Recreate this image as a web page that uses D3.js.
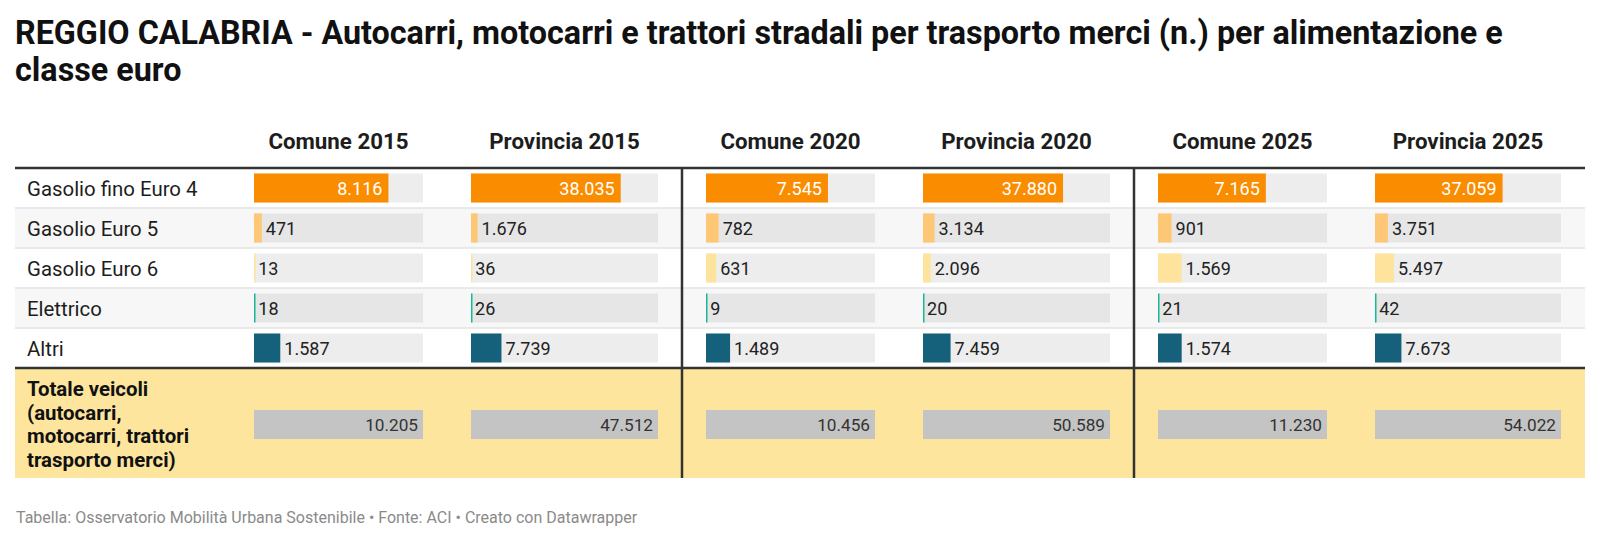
<!DOCTYPE html>
<html>
<head>
<meta charset="utf-8">
<script src="https://cdn.jsdelivr.net/npm/d3@7"></script>
<style>
  body { margin: 0; background: #fff; }
  svg { display: block; font-family: Roboto, sans-serif; }
</style>
</head>
<body>
<svg id="chart"></svg>
<script>
const titleLines = [
  "REGGIO CALABRIA - Autocarri, motocarri e trattori stradali per trasporto merci (n.) per alimentazione e",
  "classe euro"
];
const footerText = "Tabella: Osservatorio Mobilità Urbana Sostenibile • Fonte: ACI • Creato con Datawrapper";

const categories = ["Gasolio fino Euro 4", "Gasolio Euro 5", "Gasolio Euro 6", "Elettrico", "Altri"];
const categoryColors = ["#fa8c00", "#fec776", "#fee39c", "#19b796", "#15607a"];
const columns = ["Comune 2015", "Provincia 2015", "Comune 2020", "Provincia 2020", "Comune 2025", "Provincia 2025"];

const comune2015 = [8116, 471, 13, 18, 1587];
const provincia2015 = [38035, 1676, 36, 26, 7739];
const comune2020 = [7545, 782, 631, 9, 1489];
const provincia2020 = [37880, 3134, 2096, 20, 7459];
const comune2025 = [7165, 901, 1569, 21, 1574];
const provincia2025 = [37059, 3751, 5497, 42, 7673];
const totals = [10205, 47512, 10456, 50589, 11230, 54022];
const totalLabel = ["Totale veicoli", "(autocarri,", "motocarri, trattori", "trasporto merci)"];

const columnValues = [comune2015, provincia2015, comune2020, provincia2020, comune2025, provincia2025];

const width = 1600, height = 542;
const svg = d3.select("#chart").attr("width", width).attr("height", height);

const it = d3.formatLocale({ decimal: ",", thousands: ".", grouping: [3], currency: ["", " €"] });
const fmt = it.format(",d");

// layout
const tableLeft = 15, tableRight = 1585;
const labelColWidth = 215;
const cellWidths = [217, 235, 217, 235, 217, 234];
const cellPad = 24;
const headerY = 149;
const bodyTop = 168;
const rowH = 40;
const totalH = 110;
const bodyBottom = bodyTop + rowH * categories.length;

// cell x positions
const cellX = [];
let cx = tableLeft + labelColWidth;
cellWidths.forEach(w => { cellX.push(cx); cx += w; });

// title
svg.append("g").selectAll("text")
  .data(titleLines)
  .join("text")
  .attr("x", 15)
  .attr("y", (d, i) => 43.5 + i * 37.7)
  .attr("font-size", 32.3)
  .attr("font-weight", 700)
  .attr("fill", "#111")
  .text(d => d);

// header
svg.append("g").selectAll("text")
  .data(columns)
  .join("text")
  .attr("x", (d, i) => cellX[i] + cellWidths[i] / 2)
  .attr("y", headerY)
  .attr("text-anchor", "middle")
  .attr("font-size", 22.3)
  .attr("font-weight", 700)
  .attr("fill", "#1d1d1d")
  .text(d => d);

const y = d3.scaleBand()
  .domain(categories)
  .range([bodyTop, bodyBottom]);

// row backgrounds
svg.append("g").selectAll("rect")
  .data(categories)
  .join("rect")
  .attr("x", tableLeft)
  .attr("y", d => y(d))
  .attr("width", tableRight - tableLeft)
  .attr("height", y.bandwidth())
  .attr("fill", (d, i) => i % 2 ? "#f7f7f7" : "#fff");

// row separators
svg.append("g").selectAll("line")
  .data(categories.slice(1))
  .join("line")
  .attr("x1", tableLeft).attr("x2", tableRight)
  .attr("y1", d => y(d)).attr("y2", d => y(d))
  .attr("stroke", "#e3e3e3")
  .attr("stroke-width", 1.5);

// total row background
svg.append("rect")
  .attr("x", tableLeft)
  .attr("y", bodyBottom)
  .attr("width", tableRight - tableLeft)
  .attr("height", totalH)
  .attr("fill", "#fee59e");

// row labels
svg.append("g").selectAll("text")
  .data(categories)
  .join("text")
  .attr("x", 27)
  .attr("y", d => y(d) + y.bandwidth() / 2 + 7.8)
  .attr("font-size", 20.4)
  .attr("fill", "#1d1d1d")
  .text(d => d);

svg.append("g").selectAll("text")
  .data(totalLabel)
  .join("text")
  .attr("x", 27)
  .attr("y", (d, i) => bodyBottom + 28 + i * 23.5)
  .attr("font-size", 20.4)
  .attr("font-weight", 700)
  .attr("fill", "#111")
  .text(d => d);

const barH = 29;

// bars per column
columnValues.forEach((vals, c) => {
  const x = d3.scaleLinear()
    .domain([0, totals[c]])
    .range([cellX[c] + cellPad, cellX[c] + cellWidths[c] - cellPad]);
  const g = svg.append("g");
  const inside = d => d / totals[c] > 0.5;

  g.selectAll("rect.bg")
    .data(categories)
    .join("rect")
    .attr("class", "bg")
    .attr("x", x(0))
    .attr("y", d => y(d) + (y.bandwidth() - barH) / 2)
    .attr("width", x(totals[c]) - x(0))
    .attr("height", barH)
    .attr("fill", (d, i) => i % 2 ? "#e6e6e6" : "#ededed");

  g.selectAll("rect.bar")
    .data(vals)
    .join("rect")
    .attr("class", "bar")
    .attr("x", x(0))
    .attr("y", (d, i) => y(categories[i]) + (y.bandwidth() - barH) / 2)
    .attr("width", d => Math.max(1.5, x(d) - x(0)))
    .attr("height", barH)
    .attr("fill", (d, i) => categoryColors[i]);

  g.selectAll("text.val")
    .data(vals)
    .join("text")
    .attr("class", "val")
    .attr("x", d => inside(d) ? x(d) - 6 : x(d) + 4)
    .attr("y", (d, i) => y(categories[i]) + y.bandwidth() / 2 + 6.5)
    .attr("text-anchor", d => inside(d) ? "end" : "start")
    .attr("font-size", 18)
    .attr("fill", d => inside(d) ? "#fff" : "#222")
    .text(d => fmt(d));

  // total
  g.append("rect")
    .attr("x", x(0))
    .attr("y", bodyBottom + 42)
    .attr("width", x(totals[c]) - x(0))
    .attr("height", barH)
    .attr("fill", "#c4c4c4");

  g.append("text")
    .attr("x", x(totals[c]) - 5)
    .attr("y", bodyBottom + 42 + barH / 2 + 6)
    .attr("text-anchor", "end")
    .attr("font-size", 17.2)
    .attr("fill", "#333")
    .text(fmt(totals[c]));
});

// thick horizontal lines
svg.append("g").selectAll("line")
  .data([bodyTop, bodyBottom])
  .join("line")
  .attr("x1", tableLeft).attr("x2", tableRight)
  .attr("y1", d => d).attr("y2", d => d)
  .attr("stroke", "#333")
  .attr("stroke-width", 2.5);

// vertical dividers between years
svg.append("g").selectAll("line")
  .data([2, 4])
  .join("line")
  .attr("x1", d => cellX[d]).attr("x2", d => cellX[d])
  .attr("y1", bodyTop).attr("y2", bodyBottom + totalH)
  .attr("stroke", "#333")
  .attr("stroke-width", 2.5);

// footer
svg.append("text")
  .attr("x", 16)
  .attr("y", 523)
  .attr("font-size", 16)
  .attr("fill", "#8a8a8a")
  .text(footerText);
</script>
</body>
</html>
